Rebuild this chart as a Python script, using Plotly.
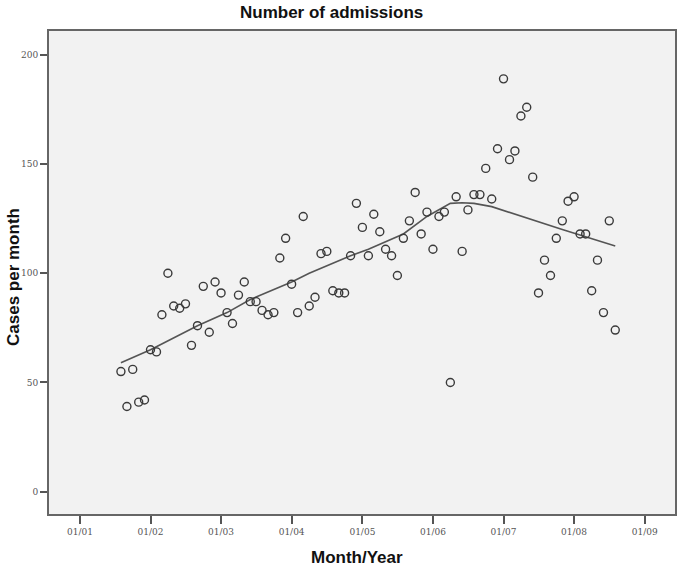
import plotly.graph_objects as go
import pandas as pd

# monthly admissions, Aug 2001 - Aug 2008
months = pd.date_range("2001-08-01", periods=85, freq="MS")
cases = [55, 39, 56, 41, 42, 65, 64, 81, 100, 85, 84, 86,
         67, 76, 94, 73, 96, 91, 82, 77, 90, 96, 87, 87,
         83, 81, 82, 107, 116, 95, 82, 126, 85, 89, 109, 110,
         92, 91, 91, 108, 132, 121, 108, 127, 119, 111, 108, 99,
         116, 124, 137, 118, 128, 111, 126, 128, 50, 135, 110, 129,
         136, 136, 148, 134, 157, 189, 152, 156, 172, 176, 144, 91,
         106, 99, 116, 124, 133, 135, 118, 118, 92, 106, 82, 124, 74]

# fit line
fit_dates = ["2001-08-01", "2002-01-01", "2002-09-01", "2003-02-01", "2003-06-01",
             "2004-01-01", "2004-04-01", "2004-11-01", "2005-02-01", "2005-08-01",
             "2005-12-01", "2006-04-01", "2006-06-01", "2006-08-01", "2006-11-01",
             "2007-11-01", "2008-08-01"]
fit_values = [59, 65, 76, 82, 88, 96, 100, 108, 111, 118,
              126, 132, 132.3, 132, 130.5, 120, 112.5]

tick_dates = ["2001-01-01", "2002-01-01", "2003-01-01", "2004-01-01", "2005-01-01",
              "2006-01-01", "2007-01-01", "2008-01-01", "2009-01-01"]
tick_labels = ["01/01", "01/02", "01/03", "01/04", "01/05", "01/06", "01/07", "01/08", "01/09"]

fig = go.Figure()
fig.add_trace(go.Scatter(x=fit_dates, y=fit_values, mode="lines",
                         line=dict(color="#555555", width=1.6), hoverinfo="skip"))
fig.add_trace(go.Scatter(x=months, y=cases, mode="markers",
                         marker=dict(symbol="circle-open", size=8,
                                     line=dict(color="#3a3a3a", width=1.4), color="#3a3a3a")))

fig.update_layout(
    width=682, height=568,
    margin=dict(l=49, r=7, t=31, b=54),
    paper_bgcolor="white", plot_bgcolor="#f2f2f2",
    showlegend=False,
    font=dict(family="Arial", color="#222222"),
)
fig.add_annotation(text="<b>Number of admissions</b>", xref="paper", yref="paper",
                   x=(331 - 49) / 626, y=1 + (31 - 13) / 483, xanchor="center", yanchor="middle",
                   showarrow=False, font=dict(size=17, color="#111111"))
fig.add_annotation(text="<b>Month/Year</b>", xref="paper", yref="paper",
                   x=(357 - 49) / 626, y=-(557 - 514) / 483, xanchor="center", yanchor="middle",
                   showarrow=False, font=dict(size=17, color="#111111"))
fig.add_annotation(text="<b>Cases per month</b>", xref="paper", yref="paper",
                   x=-(49 - 13) / 626, y=(514 - 277) / 483, xanchor="center", yanchor="middle",
                   textangle=-90, showarrow=False, font=dict(size=17, color="#111111"))

fig.update_xaxes(
    range=["2000-07-25", "2009-06-06"], automargin=False,
    tickvals=tick_dates, ticktext=tick_labels,
    ticks="outside", ticklen=8, tickwidth=2, tickcolor="#555555",
    tickfont=dict(size=9, color="#555555", family="DejaVu Serif"),
    showgrid=False, zeroline=False,
    showline=True, linecolor="#666666", linewidth=2, mirror=True,
)
fig.update_yaxes(
    range=[-10.2, 210.9], automargin=False,
    tickvals=[0, 50, 100, 150, 200],
    ticks="outside", ticklen=7, tickwidth=2, tickcolor="#555555",
    tickfont=dict(size=9, color="#555555", family="DejaVu Serif"),
    showgrid=False, zeroline=False,
    showline=True, linecolor="#666666", linewidth=2, mirror=True,
)

# drop the default page margin so the figure fills the window
fig.write_html("out.html", config={"displayModeBar": False},
               post_script="document.body.style.margin='0';")
